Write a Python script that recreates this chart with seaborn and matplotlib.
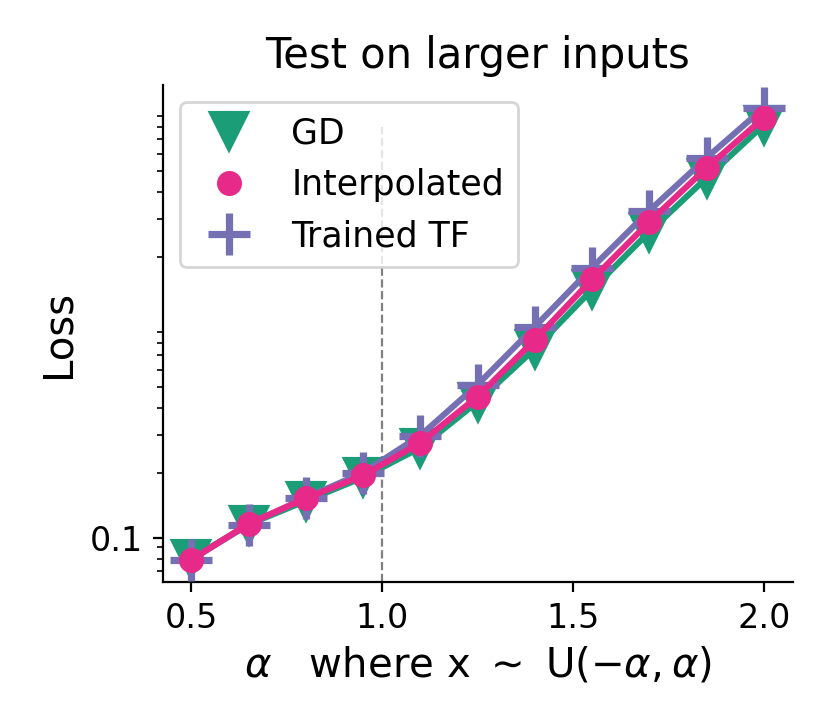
import matplotlib
matplotlib.use("Agg")
import matplotlib.pyplot as plt
from matplotlib.lines import Line2D
from matplotlib.ticker import NullFormatter
import seaborn as sns

# alpha values on the x axis
alphas = [0.5, 0.65, 0.8, 0.95, 1.1, 1.25, 1.4, 1.55, 1.7, 1.85, 2.0]

# loss per method
gd_loss = [0.080, 0.115, 0.148, 0.190, 0.261, 0.426, 0.750, 1.41, 2.61, 4.64, 8.17]
interp_loss = [0.079, 0.116, 0.152, 0.194, 0.275, 0.450, 0.825, 1.57, 2.90, 5.16, 8.80]
tf_loss = [0.079, 0.115, 0.153, 0.200, 0.297, 0.511, 0.948, 1.78, 3.27, 5.75, 9.79]

labels = ['GD', 'Interpolated', 'Trained TF']
colors = {'GD': '#1b9e77', 'Interpolated': '#e7298a', 'Trained TF': '#7570b3'}
xticks = [0.5, 1.0, 1.5, 2.0]

plt.rcParams['font.size'] = 12

fig, ax = plt.subplots(figsize=(4.15, 3.635), dpi=200)
fig.subplots_adjust(left=0.196, right=0.955, bottom=0.199, top=0.883)

# threshold of training range
ax.axvline(1.0, ymax=0.915, color='gray', linestyle='--', linewidth=0.8, zorder=1)

sns.lineplot(x=alphas, y=gd_loss, ax=ax, color=colors['GD'], linewidth=2.2,
             marker='v', markersize=13, markeredgecolor=colors['GD'],
             markeredgewidth=1.5, zorder=2)
sns.lineplot(x=alphas, y=tf_loss, ax=ax, color=colors['Trained TF'], linewidth=2.2,
             marker='+', markersize=15, markeredgecolor=colors['Trained TF'],
             markeredgewidth=2.6, zorder=3)
sns.lineplot(x=alphas, y=interp_loss, ax=ax, color=colors['Interpolated'], linewidth=2.2,
             marker='o', markersize=8, markeredgecolor=colors['Interpolated'],
             markeredgewidth=1.0, zorder=4)

ax.set_yscale('log')
ax.set_yticks([0.1])
ax.set_yticklabels(['0.1'])
ax.yaxis.set_minor_formatter(NullFormatter())
ax.set_xticks(xticks)
ax.tick_params(labelsize=12)

handles = [
    Line2D([], [], linestyle='none', marker='v', markersize=13, color=colors['GD'],
           markeredgecolor=colors['GD'], markeredgewidth=1.5),
    Line2D([], [], linestyle='none', marker='o', markersize=8, color=colors['Interpolated'],
           markeredgecolor=colors['Interpolated'], markeredgewidth=1.0),
    Line2D([], [], linestyle='none', marker='+', markersize=15, color=colors['Trained TF'],
           markeredgecolor=colors['Trained TF'], markeredgewidth=2.6),
]
ax.legend(handles, labels, loc='upper left', handlelength=2.0, fontsize=12.5)

ax.set_xlabel(r'$\alpha$   where x $\sim$ U$(-\alpha, \alpha)$', fontsize=14.5)
ax.set_ylabel('Loss', fontsize=14.5)
ax.set_title('Test on larger inputs', fontsize=15)

sns.despine(ax=ax)

plt.savefig('out.png', dpi=200)
